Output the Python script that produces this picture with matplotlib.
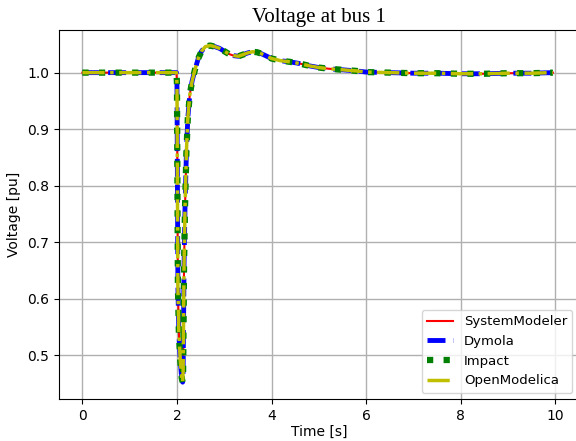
import numpy as np
import matplotlib
matplotlib.use('Agg')
import matplotlib.pyplot as plt

# voltage at bus 1 (all tools give the same curve)
time = [0.0, 1.0, 1.99, 2.0, 2.01, 2.02, 2.04, 2.07, 2.10, 2.12, 2.13, 2.14,
        2.15, 2.17, 2.20, 2.23, 2.27, 2.32, 2.38, 2.45, 2.52, 2.60, 2.70,
        2.80, 2.90, 3.00, 3.10, 3.20, 3.30, 3.40, 3.50, 3.60, 3.70, 3.80,
        3.90, 4.00, 4.20, 4.40, 4.60, 4.80, 5.00, 5.20, 5.50, 5.80, 6.00,
        6.50, 7.00, 7.50, 8.00, 8.50, 9.00, 9.50, 9.95]
voltage = [1.0, 1.0, 1.0, 0.98, 0.80, 0.62, 0.54, 0.49, 0.46, 0.452, 0.47, 0.56,
           0.66, 0.76, 0.86, 0.92, 0.96, 0.985, 1.005, 1.025, 1.038, 1.046, 1.048,
           1.046, 1.043, 1.038, 1.033, 1.030, 1.029, 1.032, 1.035, 1.037, 1.036, 1.033,
           1.029, 1.025, 1.021, 1.019, 1.016, 1.012, 1.009, 1.007, 1.005, 1.003, 1.001,
           1.000, 0.999, 0.999, 0.998, 0.998, 0.999, 0.999, 1.000]

t = np.array(time)
v = np.array(voltage)

fig = plt.figure(figsize=(5.76, 4.41), dpi=100)
ax = fig.add_axes([0.102, 0.095, 0.903, 0.837])

ax.plot(t, v, 'r-', lw=1.5, label='SystemModeler')
ax.plot(t, v, 'b--', lw=3.5, label='Dymola')
ax.plot(t, v, 'g:', lw=4.5, label='Impact')
ax.plot(t, v, 'y-.', lw=2.5, label='OpenModelica')

ax.set_xlim(-0.5, 10.5)
ax.set_ylim(0.422, 1.0755)
ax.grid(True, color='#b0b0b0', lw=1)
ax.set_xlabel('Time [s]', labelpad=1.5)
ax.set_ylabel('Voltage [pu]')
ax.set_title('Voltage at bus 1', family='Liberation Serif', fontsize=15)
ax.legend(loc='lower right', fontsize=9.5)

fig.savefig('out.png', dpi=100)
